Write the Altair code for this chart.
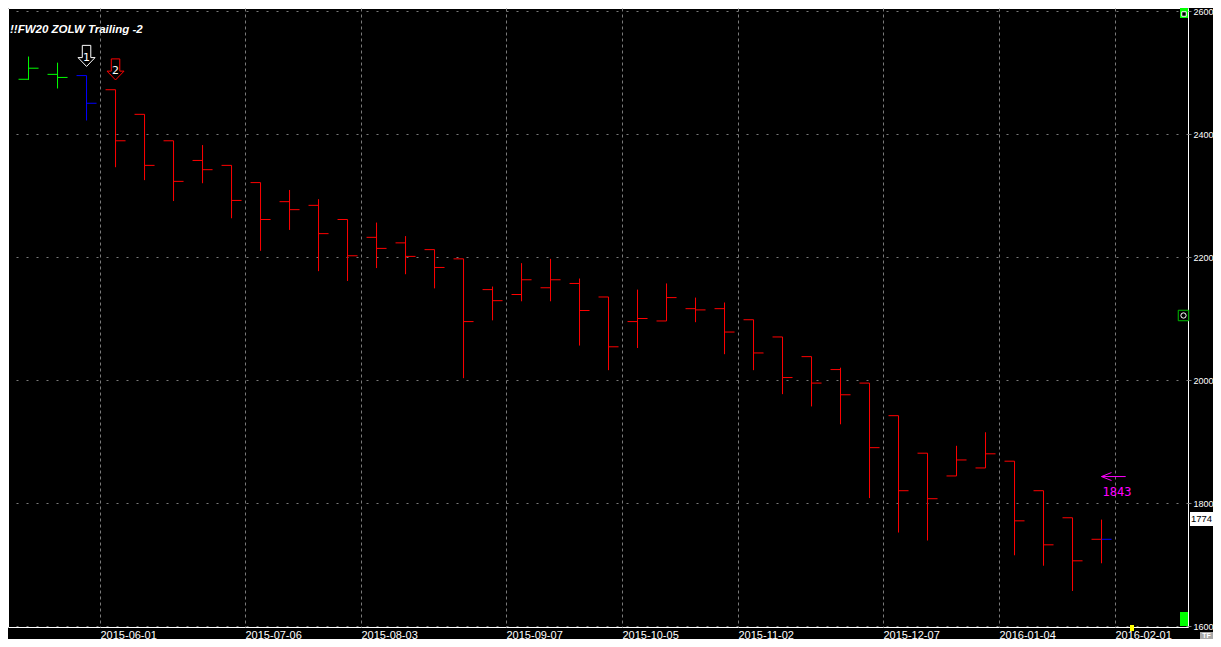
import altair as alt
import pandas as pd

# ---------------- data ----------------
weeks = [
    "2015-05-11", "2015-05-18", "2015-05-25", "2015-06-01", "2015-06-08", "2015-06-15",
    "2015-06-22", "2015-06-29", "2015-07-06", "2015-07-13", "2015-07-20", "2015-07-27",
    "2015-08-03", "2015-08-10", "2015-08-17", "2015-08-24", "2015-08-31", "2015-09-07",
    "2015-09-14", "2015-09-21", "2015-09-28", "2015-10-05", "2015-10-12", "2015-10-19",
    "2015-10-26", "2015-11-02", "2015-11-09", "2015-11-16", "2015-11-23", "2015-11-30",
    "2015-12-07", "2015-12-14", "2015-12-21", "2015-12-28", "2016-01-04", "2016-01-11",
    "2016-01-18", "2016-01-25",
]
opens = [2489, 2497, 2495, 2472, 2432, 2389, 2357, 2349, 2321, 2290, 2284, 2261, 2232,
         2223, 2212, 2197, 2147, 2139, 2150, 2157, 2135, 2095, 2096, 2116, 2116, 2098,
         2070, 2038, 2017, 1995, 1942, 1881, 1844, 1857, 1868, 1820, 1776, 1741]
highs = [2526, 2516, 2495, 2472, 2432, 2389, 2382, 2349, 2321, 2309, 2294, 2261, 2256,
         2234, 2212, 2197, 2152, 2190, 2197, 2165, 2135, 2147, 2157, 2134, 2126, 2098,
         2070, 2038, 2020, 1995, 1942, 1881, 1893, 1915, 1868, 1820, 1776, 1773]
lows = [2488, 2474, 2422, 2346, 2325, 2291, 2320, 2263, 2210, 2244, 2177, 2161, 2182,
        2172, 2149, 2003, 2097, 2128, 2128, 2056, 2016, 2052, 2096, 2094, 2042, 2016,
        1977, 1957, 1928, 1808, 1752, 1739, 1844, 1857, 1715, 1698, 1657, 1702]
closes = [2507, 2492, 2450, 2389, 2349, 2323, 2342, 2292, 2261, 2277, 2238, 2202, 2214,
          2201, 2183, 2095, 2129, 2163, 2163, 2113, 2054, 2100, 2134, 2114, 2078, 2044,
          2004, 1995, 1976, 1890, 1820, 1807, 1870, 1880, 1771, 1732, 1706, 1741]
states = ["long", "long", "flat"] + ["short"] * 35
close_states = states[:-1] + ["flat"]

signal_weeks = ["2015-05-25", "2015-06-01"]
signal_levels = [2527, 2505]
signal_labels = ["1", "2"]
signal_kinds = ["entry", "exit"]

alert_level = 1843
alert_label = "1843"
last_price = 1774
title_text = "!!FW20 ZOLW Trailing -2"

tick_dates = ["2015-06-01", "2015-07-06", "2015-08-03", "2015-09-07", "2015-10-05",
              "2015-11-02", "2015-12-07", "2016-01-04", "2016-02-01"]
price_ticks = [1600, 1800, 2000, 2200, 2400, 2600]

# ---------------- tables ----------------
BAR_SHIFT = pd.Timedelta(hours=90)   # bars drawn mid-week
FMT = "%Y-%m-%dT%H:%M:%S"

df = pd.DataFrame({
    "t": [(pd.Timestamp(w) + BAR_SHIFT).strftime(FMT) for w in weeks],
    "open": opens, "high": highs, "low": lows, "close": closes,
    "state": states, "cstate": close_states,
})
sig = pd.DataFrame({
    "t": [(pd.Timestamp(w) + BAR_SHIFT).strftime(FMT) for w in signal_weeks],
    "level": signal_levels, "label": signal_labels, "kind": signal_kinds,
})
alert = pd.DataFrame({
    "t": [(pd.Timestamp(weeks[-1]) + BAR_SHIFT).strftime(FMT)],
    "t2": [pd.Timestamp("2016-02-03T14:00:00").strftime(FMT)],
    "level": [alert_level], "label": [alert_label],
})
lastdf = pd.DataFrame({"level": [last_price], "label": [str(last_price)]})
one = pd.DataFrame({"k": [0]})


def dt(s):
    ts = pd.Timestamp(s)
    return alt.DateTime(year=ts.year, month=ts.month, date=ts.day, hours=ts.hour)


x_scale = alt.Scale(domain=[dt("2015-05-09T19:00"), dt("2016-02-18T15:00")])
y_scale = alt.Scale(domain=[1598.374, 2604.89], zero=False, nice=False)
color_scale = alt.Scale(domain=["long", "flat", "short"], range=["#00ff00", "#0000ff", "#ff0000"])

x_axis = alt.Axis(
    values=[dt(d) for d in tick_dates], format="%Y-%m-%d", labelAlign="left",
    labelFlush=False, labelOverlap=False, labelColor="white", labelFont="Liberation Sans",
    labelFontSize=11, labelBaseline="top", labelPadding=2, ticks=False, domain=False,
    grid=True, gridColor="#7a7a7a", gridDash=[3, 3], gridWidth=1, title=None,
)
y_axis = alt.Axis(
    orient="right", values=price_ticks, format="d", labelColor="white",
    labelFont="Liberation Sans", labelFontSize=9, labelPadding=2, labelFlush=False,
    tickSize=3, tickColor="#808080", domain=False, grid=True, gridColor="#7a7a7a",
    gridDash=[2, 8], gridWidth=1, title=None,
)

base = alt.Chart(df)

wicks = base.mark_rule(strokeWidth=1).encode(
    x=alt.X("t:T", scale=x_scale, axis=x_axis, title=None),
    y=alt.Y("low:Q", scale=y_scale, axis=y_axis, title=None),
    y2="high:Q",
    color=alt.Color("state:N", scale=color_scale, legend=None),
)
open_ticks = base.mark_tick(orient="horizontal", size=10, thickness=1, xOffset=-5, opacity=1).encode(
    x=alt.X("t:T", title=None), y=alt.Y("open:Q", title=None),
    color=alt.Color("state:N", scale=color_scale, legend=None),
)
close_ticks = base.mark_tick(orient="horizontal", size=10, thickness=1, xOffset=5, opacity=1).encode(
    x=alt.X("t:T", title=None), y=alt.Y("close:Q", title=None),
    color=alt.Color("cstate:N", scale=color_scale, legend=None),
)

ARROW = "M-0.5,-1.24 L0.5,-1.24 L0.5,0.2 L1,0.2 L0,1.24 L-1,0.2 L-0.5,0.2 Z"
sig_arrows = alt.Chart(sig).mark_point(shape=ARROW, size=289, filled=False, strokeWidth=1, opacity=1).encode(
    x=alt.X("t:T", title=None), y=alt.Y("level:Q", title=None),
    stroke=alt.Stroke("kind:N", scale=alt.Scale(domain=["entry", "exit"], range=["#ffffff", "#ff0000"]), legend=None),
)
sig_text = alt.Chart(sig).mark_text(font="DejaVu Sans", fontSize=11, color="white", dy=2).encode(
    x=alt.X("t:T", title=None), y=alt.Y("level:Q", title=None), text="label:N",
)

alert_line = alt.Chart(alert).mark_rule(color="#ff00ff", strokeWidth=1).encode(
    x=alt.X("t:T", title=None), x2="t2:T", y=alt.Y("level:Q", title=None),
)
alert_head = alt.Chart(alert).mark_point(
    shape="M1,-0.8 L-1,0 L1,0.8", size=100, filled=False, stroke="#ff00ff", strokeWidth=1,
    xOffset=5, opacity=1,
).encode(x=alt.X("t:T", title=None), y=alt.Y("level:Q", title=None))
alert_text = alt.Chart(alert).mark_text(
    font="DejaVu Sans Mono", fontSize=12, color="#ff00ff", align="left", dx=1, dy=15,
).encode(x=alt.X("t:T", title=None), y=alt.Y("level:Q", title=None), text="label:N")

title_mark = alt.Chart(pd.DataFrame({"label": [title_text]})).mark_text(
    font="Liberation Sans", fontSize=11.5, fontWeight="bold", fontStyle="italic",
    color="white", align="left", baseline="alphabetic",
).encode(x=alt.value(2), y=alt.value(25), text="label:N")

# last price box in the right gutter
last_box = alt.Chart(lastdf).mark_rect(color="white", yOffset=-7, y2Offset=7).encode(
    x=alt.value(1182), x2=alt.value(1205), y=alt.Y("level:Q", title=None), y2="level:Q",
)
last_text = alt.Chart(lastdf).mark_text(
    font="Liberation Sans", fontSize=9.5, color="black", align="center", baseline="middle",
).encode(x=alt.value(1193.5), y=alt.Y("level:Q", title=None), text="label:N")


def deco_rect(x1, x2, y1, y2, fill):
    return alt.Chart(one).mark_rect(color=fill).encode(
        x=alt.value(x1), x2=alt.value(x2), y=alt.value(y1), y2=alt.value(y2))


top_green = deco_rect(1172, 1180, 0, 10, "#00ff00")
top_icon = alt.Chart(one).mark_point(shape="square", size=20, filled=True, fill="black",
                                     stroke="white", strokeWidth=1, opacity=1).encode(
    x=alt.value(1176), y=alt.value(6))
mid_box = alt.Chart(one).mark_point(shape="square", size=110, filled=True, fill="black",
                                    stroke="#00c000", strokeWidth=1, opacity=1).encode(
    x=alt.value(1175.5), y=alt.value(307.5))
mid_icon = alt.Chart(one).mark_point(shape="circle", size=28, filled=False, stroke="white",
                                     strokeWidth=1, opacity=1).encode(
    x=alt.value(1175.5), y=alt.value(307.5))
bottom_green = deco_rect(1172, 1180, 604, 618, "#00ff00")
yellow_mark = deco_rect(1122, 1126, 617, 623, "#ffff00")
tf_box = deco_rect(1192, 1205, 624, 631, "#a8a8a8")
tf_text = alt.Chart(pd.DataFrame({"label": ["TF"]})).mark_text(
    font="Liberation Sans", fontSize=7, fontWeight="bold", color="white", align="center",
    baseline="middle").encode(x=alt.value(1198.5), y=alt.value(627.8), text="label:N")

chart = alt.layer(
    wicks, open_ticks, close_ticks, sig_arrows, sig_text, alert_line, alert_head, alert_text,
    title_mark, last_box, last_text, top_green, top_icon, mid_box, mid_icon, bottom_green,
    yellow_mark, tf_box, tf_text,
).properties(
    width=1180, height=619, background="black",
    padding={"left": 0, "top": 0, "right": 25, "bottom": 12},
    autosize=alt.AutoSizeParams(type="none"),
).configure_view(stroke="white", strokeWidth=1)

chart.save("out.html", embed_options={"renderer": "svg", "actions": False})
